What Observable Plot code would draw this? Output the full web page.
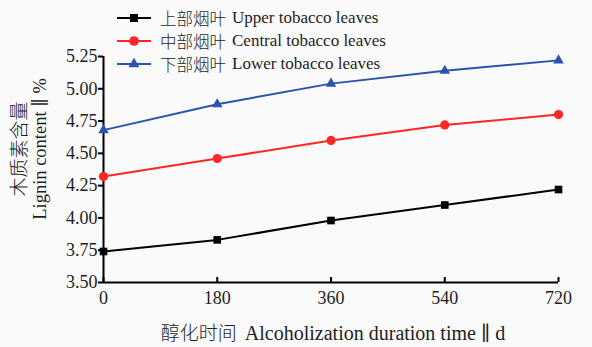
<!DOCTYPE html>
<html>
<head>
<meta charset="utf-8">
<script src="https://cdn.jsdelivr.net/npm/d3@7"></script>
<script src="https://cdn.jsdelivr.net/npm/@observablehq/plot@0.6"></script>
<style>
  html, body { margin: 0; padding: 0; background: #fafafa; }
  #chart { position: relative; width: 592px; height: 347px; overflow: hidden; background: #fafafa; color: #1e1e1e; }
  #chart > svg { position: absolute; left: 0; top: 0; }
  #chart > svg text { font-family: "Liberation Serif", "DejaVu Serif", serif; }
  .zh { font-family: "Noto Sans CJK SC", sans-serif; font-weight: 300; }
  .en { font-family: "Liberation Serif", "DejaVu Serif", serif; }
  .legend { position: absolute; left: 116px; top: 6px; }
  .legend .row { display: flex; align-items: center; height: 23px; white-space: nowrap; }
  .legend svg { display: block; margin-right: 6px; }
  .legend .zh { font-size: 16.5px; margin-right: 6px; }
  .legend .en { font-size: 17px; }
  .ylabel { position: absolute; width: 220px; height: 44px; left: -81px; top: 127px;
            transform: rotate(-90deg); transform-origin: 50% 50%; text-align: center; }
  .ylabel div { height: 22px; line-height: 22px; white-space: nowrap; }
  .ylabel .zh { font-size: 19px; }
  .ylabel .en { font-size: 18.5px; }
  .xlabel { position: absolute; left: 133px; width: 400px; top: 320px; height: 24px; line-height: 24px;
            text-align: center; white-space: nowrap; }
  .xlabel .zh { font-size: 19px; margin-right: 8px; }
  .xlabel .en { font-size: 20px; }
</style>
</head>
<body>
<div id="chart"></div>
<script>
// Alcoholization time (days)
const days = [0, 180, 360, 540, 720];

// Lignin content (%) by leaf position
const upper = [3.74, 3.83, 3.98, 4.10, 4.22];
const central = [4.32, 4.46, 4.60, 4.72, 4.80];
const lower = [4.68, 4.88, 5.04, 5.14, 5.22];

// Axis ticks
const xTicks = [0, 180, 360, 540, 720];
const yTicks = [3.50, 3.75, 4.00, 4.25, 4.50, 4.75, 5.00, 5.25];

// Series labels
const seriesZh = ["上部烟叶", "中部烟叶", "下部烟叶"];
const seriesEn = ["Upper tobacco leaves", "Central tobacco leaves", "Lower tobacco leaves"];
const seriesValues = [upper, central, lower];

// Styling per series
const seriesColors = ["#000000", "#ff2626", "#2b53ad"];
const seriesSymbols = ["square", "circle", "triangle"];
const seriesRadius = [4.3, 4.6, 3.9];

const rows = seriesEn.flatMap((key, s) =>
  days.map((day, i) => ({day, value: seriesValues[s][i], key}))
);

const width = 592, height = 347;
const margin = {top: 56, right: 34, bottom: 65, left: 103};
const tickLen = 5;
const frameHeight = height - margin.top - margin.bottom;
const serif = '"Liberation Serif", "DejaVu Serif", serif';

const plot = Plot.plot({
  width, height,
  marginLeft: margin.left, marginRight: margin.right, marginTop: margin.top, marginBottom: margin.bottom,
  style: {background: "transparent", fontFamily: serif, fontSize: "18px", color: "#1e1e1e"},
  x: {domain: [0, 720], label: null},
  y: {domain: [3.5, 5.25], label: null},
  color: {domain: seriesEn, range: seriesColors},
  symbol: {domain: seriesEn, range: seriesSymbols},
  marks: [
    Plot.axisY(yTicks, {tickSize: tickLen, tickPadding: 1, strokeWidth: 2, stroke: "#000", fontFamily: serif, tickFormat: d3.format(".2f"), label: null}),
    Plot.axisX(xTicks, {tickSize: 0, tickPadding: 9, fontFamily: serif, label: null}),
    // inward x ticks
    Plot.tickX(xTicks, {x: d => d, insetTop: frameHeight - tickLen, stroke: "#000", strokeWidth: 2}),
    Plot.ruleX([0], {stroke: "#000", strokeWidth: 2}),
    Plot.ruleY([3.5], {stroke: "#000", strokeWidth: 2}),
    Plot.line(rows, {x: "day", y: "value", z: "key", stroke: "key", strokeWidth: 2}),
    ...seriesEn.map((key, s) =>
      Plot.dot(rows.filter(d => d.key === key), {x: "day", y: "value", fill: "key", symbol: "key", r: seriesRadius[s], stroke: "none"})
    )
  ]
});

const chart = document.getElementById("chart");
chart.appendChild(plot);

// Legend
const legend = document.createElement("div");
legend.className = "legend";
seriesEn.forEach((key, s) => {
  const row = document.createElement("div");
  row.className = "row";
  const sw = d3.create("svg").attr("width", 38).attr("height", 14);
  sw.append("line").attr("x1", 1).attr("x2", 35).attr("y1", 7).attr("y2", 7)
    .attr("stroke", seriesColors[s]).attr("stroke-width", 2);
  const sym = {square: d3.symbolSquare, circle: d3.symbolCircle, triangle: d3.symbolTriangle}[seriesSymbols[s]];
  const r = seriesRadius[s] * 1.05;
  sw.append("path").attr("transform", "translate(18,7)")
    .attr("d", d3.symbol(sym, Math.PI * r * r)()).attr("fill", seriesColors[s]);
  row.appendChild(sw.node());
  const zh = document.createElement("span"); zh.className = "zh"; zh.textContent = seriesZh[s];
  const en = document.createElement("span"); en.className = "en"; en.textContent = key;
  row.appendChild(zh); row.appendChild(en);
  legend.appendChild(row);
});
chart.appendChild(legend);

// Y axis title
const ylab = document.createElement("div");
ylab.className = "ylabel";
ylab.innerHTML = '<div class="zh">木质素含量</div><div class="en">Lignin content ∥ %</div>';
chart.appendChild(ylab);

// X axis title
const xlab = document.createElement("div");
xlab.className = "xlabel";
xlab.innerHTML = '<span class="zh">醇化时间</span><span class="en">Alcoholization duration time ∥ d</span>';
chart.appendChild(xlab);
</script>
</body>
</html>
